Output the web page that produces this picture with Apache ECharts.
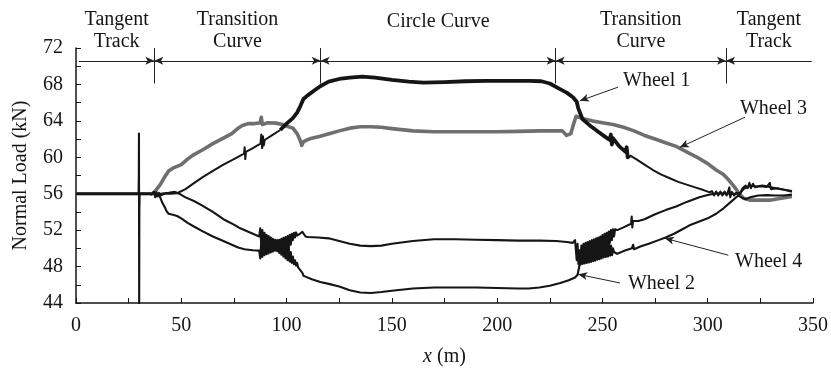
<!DOCTYPE html>
<html>
<head>
<meta charset="utf-8">
<script src="https://cdn.jsdelivr.net/npm/echarts@6/dist/echarts.min.js"></script>
<style>html,body{margin:0;padding:0;background:#fff}#c{width:831px;height:368px}</style>
</head>
<body>
<div id="c"></div>
<script>
// ---- data (x in m, normal load in kN) ----
var wheel1Entry = [[0,56],[29.8,56],[29.9,57.5],[30.0,54.6],[30.1,56],[35,56],[36,55.9],[37,56.2],[37.6,55.6],[38.2,56.2],[38.8,55.7],[39.4,56.1],[40,55.8],[42,56.0],[45,56.0],[48,56.05],[52,56.5],[55,57.0],[60,57.8],[65,58.5],[70,59.2],[75,59.8],[79.8,60.4],[80.1,61.1],[80.4,59.8],[80.7,60.6],[84,61.0],[87.6,61.5],[88.0,62.5],[88.4,61.0],[88.8,62.3],[89.2,61.3],[89.6,61.9],[93,62.4],[97,63.0]];
var wheel1Circle = [[97,63.0],[100,63.7],[103,64.3],[105,64.9],[106.5,65.6],[108,66.4],[110,66.8],[113,67.3],[116,67.8],[120,68.3],[125,68.6],[130,68.75],[136,68.85],[142,68.75],[150,68.5],[158,68.3],[165,68.2],[175,68.25],[185,68.35],[195,68.4],[205,68.4],[215,68.4],[221,68.35],[225,68.1],[229,67.6],[233,67.1],[236,66.6],[237.8,66.1],[238.5,65.4],[240.5,64.2],[244,63.5],[248,62.8],[251,62.3],[253.5,61.9],[254,62.5],[254.5,61.4],[255,62.1],[258,61.2],[261,60.6],[261.5,61.1],[262,60.0],[263,60.2]];
var wheel1Exit = [[263,60.2],[266,59.8],[270,59.2],[274,58.6],[278,58.1],[282,57.7],[286,57.3],[290,57.0],[294,56.7],[298,56.4],[301,56.15],[302,56.3],[303,55.8],[304,56.25],[305,55.8],[306,56.25],[307,55.8],[308,56.25],[309,55.8],[310.3,56.7],[310.7,55.6],[311.5,56.2],[312.5,55.8],[313.5,56.1],[315.3,56.0],[316.5,56.6],[318,56.9],[319,56.6],[319.8,57.2],[320.5,56.6],[321.5,57.1],[322.5,56.7],[324,56.8],[326,56.8],[328,56.75],[329.5,57.2],[330,56.5],[333,56.6],[336,56.45],[340,56.2]];
var wheel2 = [[0,56],[29.8,56],[29.9,62.6],[30.0,43.5],[30.1,56],[36,56],[37,56.2],[38,55.7],[39,56.0],[40,55.6],[41,55.0],[42,54.6],[43,54.1],[44,53.8],[46,53.7],[48,53.55],[50,53.3],[53,52.8],[56,52.4],[60,51.9],[65,51.3],[70,50.8],[74,50.4],[77,50.1],[80,49.9],[84,49.8],[87,49.75],
  [87.5,48.9],[88.0,50.8],[88.5,49.05],[89.0,50.8],[89.5,49.25],[90.0,50.75],[90.5,49.35],[91.0,50.7],[91.5,49.45],[92.0,50.65],[92.5,49.55],[93.0,50.65],[93.5,49.65],[94.0,50.65],[94.5,49.75],[95.0,50.65],[95.5,49.7],[96.0,50.55],[96.5,49.5],[97.0,50.5],[97.5,49.3],[98.0,50.45],[98.5,49.1],[99.0,50.4],[99.5,48.9],[100.0,50.35],[100.5,48.7],[101.0,50.1],[101.5,48.55],[102.0,49.6],[102.5,48.4],[103.0,49.1],[103.5,48.25],[104.0,48.7],[104.5,48.1],[105.0,48.4],[105.5,47.9],[106.0,48.0],[106.5,47.6],[107.0,47.6],[107.5,47.3],
  [108,47.0],[109,46.9],[112,46.6],[116,46.3],[120,46.1],[125,45.8],[130,45.4],[135,45.15],[140,45.1],[145,45.2],[150,45.35],[160,45.6],[170,45.7],[180,45.7],[190,45.7],[200,45.65],[210,45.6],[215,45.6],[220,45.7],[225,45.9],[230,46.2],[234,46.5],[237,46.8],[238.2,47.1],[239,48.0],
  [239.5,48.7],[240,50.3],[240.5,49.0],[241,50.5],[241.5,49.1],[242,50.6],[242.5,49.2],[243,50.7],[243.5,49.3],[244,50.8],[244.5,49.4],[245,50.9],[245.5,49.5],[246,51.0],[246.5,49.6],[247,51.1],[247.5,49.7],[248,51.2],[248.5,49.8],[249,51.3],[249.5,50.0],[250,51.45],[250.5,50.2],[251,51.6],[251.5,50.3],[252,51.7],[252.5,50.4],[253,51.85],[253.5,50.6],[254,52.0],[254.5,50.9],[255,52.1],[255.5,51.3],[256,52.1],
  [257,52.0],[260,52.3],[263.6,52.7],[263.9,53.5],[264.2,52.3],[264.5,53.0],[267,53.0],[270,53.2],[275,53.75],[280,54.2],[285,54.6],[290,55.1],[296,55.6],[300,55.85],[303,56.0],[306,56.05],[310,56.0],[313,56.0],[315.3,56.0],[317,56.5],[320,56.9],[323,56.8],[326,56.9],[330,56.7],[335,56.5],[340,56.3]];
var wheel3 = [[0,56],[36,56],[37,56.1],[38,56.4],[40,57.0],[42,57.8],[44,58.5],[46,58.8],[48,59.0],[50,59.2],[53,59.8],[56,60.3],[60,60.8],[65,61.5],[70,62.1],[74,62.6],[77,63.2],[79,63.5],[82,63.7],[85,63.7],[87.5,63.8],[88,64.4],[88.5,63.6],[91,63.8],[95,63.75],[98,63.6],[101,63.35],[103,63.2],[105,62.6],[106.4,61.9],[107.2,61.3],[108,61.7],[109.6,61.9],[112,62.1],[116,62.3],[120.6,62.6],[125,62.9],[130,63.2],[135,63.35],[140,63.35],[145,63.3],[150,63.15],[160,62.9],[170,62.8],[180,62.8],[190,62.8],[200,62.8],[210,62.85],[220,62.9],[228,62.9],[231,62.9],[233,62.4],[235,62.6],[236.5,63.8],[237.5,64.5],[240,64.3],[245,64.0],[250,63.8],[255,63.6],[260,63.3],[265,62.9],[270,62.4],[275,62.0],[280,61.6],[285,61.2],[290,60.6],[295,60.0],[300,59.3],[304,58.6],[307.5,58.1],[310,57.5],[312.5,56.8],[315,56.0],[317,55.5],[320,55.3],[325,55.3],[330,55.3],[335,55.5],[340,55.7]];
var wheel4 = [[0,56],[40,56],[44,56.1],[47,56.2],[49,56.0],[52,55.6],[56,55.2],[60,54.7],[65,54.0],[70,53.2],[75,52.6],[78,52.2],[81,51.9],[84,51.6],[87,51.3],
  [87.5,52.2],[88.0,50.3],[88.5,52.0],[89.0,50.2],[89.5,51.7],[90.0,50.15],[90.5,51.5],[91.0,50.1],[91.5,51.35],[92.0,50.05],[92.5,51.2],[93.0,50.05],[93.5,51.05],[94.0,50.05],[94.5,50.95],[95.0,50.05],[95.5,50.9],[96.0,49.95],[96.5,50.95],[97.0,49.9],[97.5,51.05],[98.0,49.85],[98.5,51.15],[99.0,49.8],[99.5,51.25],[100.0,49.85],[100.5,51.35],[101.0,50.0],[101.5,51.5],[102.0,50.4],[102.5,51.6],[103.0,50.9],[103.5,51.7],[104.0,51.2],[104.5,51.75],[105,51.4],
  [106,51.55],[107.5,51.8],[108.3,51.9],[109,51.3],[110,51.25],[115,51.2],[120,51.1],[125,50.8],[130,50.5],[135,50.3],[140,50.25],[145,50.3],[150,50.5],[160,50.8],[170,51.0],[180,51.0],[190,50.95],[200,50.9],[210,50.85],[220,50.85],[228,50.8],[233,50.7],[236,50.6],[237,50.9],[237.5,50.9],
  [237.8,48.7],[238.2,50.5],[238.6,48.3],[239.1,49.8],[239.6,48.2],[240.1,49.8],[240.6,48.3],[241.1,49.9],[241.6,48.35],[242.1,49.9],[242.6,48.4],[243.1,50.0],[243.6,48.45],[244.1,50.0],[244.6,48.5],[245.1,50.1],[245.6,48.6],[246.1,50.2],[246.6,48.65],[247.1,50.3],[247.6,48.75],[248.1,50.3],[248.6,48.8],[249.1,50.4],[249.6,48.9],[250.1,50.4],[250.6,49.0],[251.1,50.5],[251.6,49.05],[252.1,50.5],[252.6,49.1],[253.1,50.5],[253.6,49.2],[254.1,50.3],[254.6,49.25],[255.0,50.0],[255.5,49.6],
  [257,49.4],[260,49.7],[264,50.0],[264.6,50.4],[265,49.9],[268,50.2],[272,50.5],[276,50.85],[280,51.2],[284,51.6],[288,52.1],[292,52.6],[296,52.95],[300,53.3],[304,53.8],[307.5,54.4],[311,55.1],[314.5,55.8],[316,55.6],[318,55.4],[320,55.6],[324,55.8],[328,55.85],[332,55.8],[336,55.8],[340,55.9]];

var sectionNames = ['Tangent\nTrack','Transition\nCurve','Circle Curve','Transition\nCurve','Tangent\nTrack'];
var sectionBounds = [1.4, 37.2, 116.2, 227.8, 308.7, 349.4];
var wheelNames = ['Wheel 1','Wheel 2','Wheel 3','Wheel 4'];

var FONT = 'Liberation Serif';
var BLACK = '#151515', GRAY = '#6f6f6f';

var chart = echarts.init(document.getElementById('c'), null, {renderer:'canvas'});

// dimension line segments and separators
var dimY = 70.6;
var dimLines = [];
for (var i = 0; i < sectionBounds.length - 1; i++) {
  dimLines.push([
    {coord:[sectionBounds[i], dimY], symbol: i === 0 ? 'none' : 'arrow'},
    {coord:[sectionBounds[i+1], dimY], symbol: i === sectionBounds.length - 2 ? 'none' : 'arrow'}
  ]);
}
for (var j = 1; j < sectionBounds.length - 1; j++) {
  dimLines.push([{coord:[sectionBounds[j], 72], symbol:'none'},{coord:[sectionBounds[j], 68.1], symbol:'none'}]);
}
var pointers = [
  [[257.4,67.7],[239.3,66.2]],
  [[258.3,46.2],[238.5,47.15]],
  [[317.7,64.4],[286.8,61.1]],
  [[309.8,49.25],[279.7,51.1]]
];
var pointerLines = pointers.map(function(p){
  return [{coord:p[0], symbol:'none'},{coord:p[1], symbol:'arrow'}];
});

function lineSeries(name, data, color, width, z) {
  return {name:name, type:'line', data:data, showSymbol:false, symbol:'none', animation:false,
    lineStyle:{color:color, width:width, join:'round'}, z:z, silent:true, clip:true};
}

var series = [
  lineSeries('Wheel 3', wheel3, GRAY, 3.6, 2),
  lineSeries('Wheel 2', wheel2, BLACK, 2.1, 3),
  lineSeries('Wheel 4', wheel4, BLACK, 2.1, 3),
  lineSeries('Wheel 1', wheel1Entry, BLACK, 2.0, 4),
  lineSeries('Wheel 1', wheel1Circle, BLACK, 3.8, 4),
  lineSeries('Wheel 1', wheel1Exit, BLACK, 2.0, 4)
];
series.push({
  type:'line', data:[], silent:true, animation:false,
  markLine:{silent:true, animation:false, symbolSize:[6,9], label:{show:false},
    lineStyle:{color:'#222', width:1, type:'solid'}, data: dimLines.concat(pointerLines)}
});

chart.setOption({
  animation:false,
  backgroundColor:'#fff',
  grid:{left:76, right:18, top:48, bottom:65, containLabel:false, outerBoundsMode:'none'},
  xAxis:{type:'value', min:0, max:350, interval:50,
    name:'{i|x} (m)', nameLocation:'middle', nameGap:44,
    nameTextStyle:{fontFamily:FONT, fontSize:20, color:BLACK, rich:{i:{fontStyle:'italic', fontFamily:FONT, fontSize:20, color:BLACK}}},
    axisLine:{lineStyle:{color:BLACK, width:1.5}},
    axisTick:{inside:true, length:5, lineStyle:{color:BLACK, width:1}},
    minorTick:{show:true, splitNumber:2, length:5, lineStyle:{color:BLACK, width:1}},
    splitLine:{show:false},
    axisLabel:{fontFamily:FONT, fontSize:20, color:BLACK, margin:13}
  },
  yAxis:{type:'value', min:44, max:72, interval:4,
    name:'Normal Load (kN)', nameLocation:'middle', nameGap:45, nameRotate:90,
    nameTextStyle:{fontFamily:FONT, fontSize:20, color:BLACK},
    axisLine:{show:true, lineStyle:{color:BLACK, width:1.5}},
    axisTick:{show:true, inside:true, length:5, lineStyle:{color:BLACK, width:1}},
    minorTick:{show:true, splitNumber:2, length:5, lineStyle:{color:BLACK, width:1}},
    splitLine:{show:false},
    axisLabel:{fontFamily:FONT, fontSize:20, color:BLACK, margin:13}
  },
  series:series
});

// text annotations placed through the axes' scales
var g = [];
var sectionTwoLine = [true, true, false, true, true];
for (var k = 0; k < sectionNames.length; k++) {
  var mid = (sectionBounds[k] + sectionBounds[k+1]) / 2;
  var p = chart.convertToPixel({gridIndex:0}, [mid, 72]);
  g.push({type:'text', x:p[0], y: sectionTwoLine[k] ? p[1] + 5 : p[1] - 15,
    style:{text:sectionNames[k], fontFamily:FONT, fontSize:20, lineHeight:22, fill:BLACK,
      align:'center', verticalAlign:'bottom'}});
}
var wheelLabelAt = [[259.8,68.4],[262.1,46.1],[315.3,65.3],[313.0,48.5]];
for (var m = 0; m < wheelNames.length; m++) {
  var q = chart.convertToPixel({gridIndex:0}, wheelLabelAt[m]);
  g.push({type:'text', x:q[0], y:q[1],
    style:{text:wheelNames[m], fontFamily:FONT, fontSize:20, fill:BLACK, align:'left', verticalAlign:'middle'}});
}
chart.setOption({graphic:g});
</script>
</body>
</html>
